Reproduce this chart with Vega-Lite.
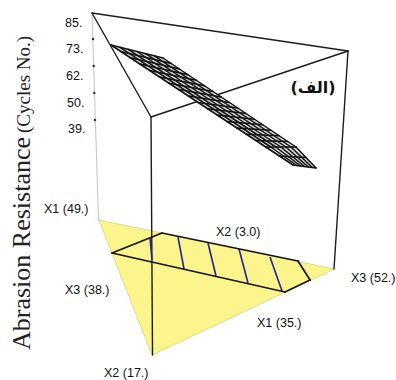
{"$schema":"https://vega.github.io/schema/vega-lite/v6.json","width":396,"height":380,"padding":0,"autosize":"none","background":"white","config":{"view":{"stroke":null}},
"datasets":{
"tri":[{"x":99,"y":220,"y2":220},{"x":152,"y":231,"y2":355},{"x":334,"y":269,"y2":269}],
"grey":[{"x":92,"y":13,"x2":98.5,"y2":220}],
"frame":[{"x":92,"y":13,"x2":348,"y2":51},{"x":348,"y":51,"x2":151,"y2":117},{"x":151,"y":117,"x2":92,"y2":13},{"x":151,"y":117,"x2":152.5,"y2":355},{"x":348,"y":51,"x2":334,"y2":269}],
"zone":[{"x":162,"y":233,"x2":298,"y2":261},{"x":298,"y":261,"x2":310,"y2":280},{"x":310,"y":280,"x2":285,"y2":292},{"x":285,"y":292,"x2":112,"y2":253},{"x":112,"y":253,"x2":162,"y2":233}],
"blue":[{"x":150,"y":238,"x2":152,"y2":260},{"x":178,"y":237,"x2":184,"y2":269},{"x":208,"y":243,"x2":216,"y2":276},{"x":239,"y":249,"x2":248,"y2":283},{"x":270,"y":257,"x2":282,"y2":291}],
"ticks":[{"x":93,"y":39},{"x":93.7,"y":66},{"x":94.3,"y":93},{"x":95,"y":120}],
"meshfill":[{"x":111,"y":45,"y2":45},{"x":163,"y":58,"y2":79},{"x":266,"y":127,"y2":147},{"x":293,"y":145,"y2":165},{"x":296,"y":147,"y2":165.4},{"x":316,"y":168,"y2":168}],
"mesh":[
{"x":111,"y":45,"x2":265.7,"y2":147},{"x":265.7,"y":147,"x2":293,"y2":165},
{"x":119.7,"y":47.2,"x2":270.8,"y2":147},{"x":270.8,"y":147,"x2":296.8,"y2":165.5},
{"x":128.3,"y":49.3,"x2":275.8,"y2":147},{"x":275.8,"y":147,"x2":300.7,"y2":166},
{"x":137,"y":51.5,"x2":280.9,"y2":147},{"x":280.9,"y":147,"x2":304.5,"y2":166.5},
{"x":145.7,"y":53.7,"x2":285.9,"y2":147},{"x":285.9,"y":147,"x2":308.3,"y2":167},
{"x":154.3,"y":55.8,"x2":291,"y2":147},{"x":291,"y":147,"x2":312.2,"y2":167.5},
{"x":163,"y":58,"x2":296,"y2":147},{"x":296,"y":147,"x2":316,"y2":168},
{"x":111,"y":45,"x2":163,"y2":58},{"x":120.7,"y":51.4,"x2":171.3,"y2":63.6},{"x":130.3,"y":57.8,"x2":179.6,"y2":69.1},{"x":140,"y":64.1,"x2":187.9,"y2":74.7},{"x":149.7,"y":70.5,"x2":196.3,"y2":80.2},{"x":159.4,"y":76.9,"x2":204.6,"y2":85.8},{"x":169,"y":83.3,"x2":212.9,"y2":91.4},{"x":178.7,"y":89.6,"x2":221.2,"y2":96.9},{"x":188.4,"y":96,"x2":229.5,"y2":102.5},{"x":198,"y":102.4,"x2":237.8,"y2":108},{"x":207.7,"y":108.8,"x2":246.1,"y2":113.6},{"x":217.4,"y":115.1,"x2":254.4,"y2":119.2},{"x":227,"y":121.5,"x2":262.7,"y2":124.7},{"x":236.7,"y":127.9,"x2":271,"y2":130.3},{"x":246.4,"y":134.3,"x2":279.3,"y2":135.8},{"x":256,"y":140.6,"x2":287.7,"y2":141.4},{"x":265.7,"y":147,"x2":296,"y2":147},{"x":279.3,"y":156,"x2":306,"y2":157.5},{"x":293,"y":165,"x2":316,"y2":168}],
"labels":[{"x":65,"y":23,"t":"85."},{"x":66,"y":49,"t":"73."},{"x":66,"y":76,"t":"62."},{"x":67,"y":103,"t":"50."},{"x":68,"y":129,"t":"39."},{"x":44,"y":209,"t":"X1 (49.)"},{"x":216,"y":232,"t":"X2 (3.0)"},{"x":65,"y":290,"t":"X3 (38.)"},{"x":351,"y":278,"t":"X3 (52.)"},{"x":257,"y":323,"t":"X1 (35.)"},{"x":104,"y":373,"t":"X2 (17.)"}],
"arabic":[{"x":313,"y":88,"t":"(الف)"}],
"titleMain":[{"x":30,"y":350,"t":"Abrasion Resistance"}],
"titleSub":[{"x":30,"y":133,"t":"(Cycles No.)"}]
},
"encoding":{"x":{"field":"x","type":"quantitative","axis":null,"scale":{"domain":[0,396],"nice":false,"zero":false}},"y":{"field":"y","type":"quantitative","axis":null,"scale":{"domain":[0,380],"nice":false,"zero":false,"reverse":true}}},
"layer":[
{"data":{"name":"tri"},"mark":{"type":"area","fill":"#fbf58c","stroke":"#d8d27a","strokeWidth":0.8},"encoding":{"y2":{"field":"y2"}}},
{"data":{"name":"grey"},"mark":{"type":"rule","stroke":"#c4c4c4","strokeWidth":1},"encoding":{"x2":{"field":"x2"},"y2":{"field":"y2"}}},
{"data":{"name":"frame"},"mark":{"type":"rule","stroke":"#1c1c1c","strokeWidth":1.4,"strokeCap":"round"},"encoding":{"x2":{"field":"x2"},"y2":{"field":"y2"}}},
{"data":{"name":"blue"},"mark":{"type":"rule","stroke":"#22229c","strokeWidth":1.6},"encoding":{"x2":{"field":"x2"},"y2":{"field":"y2"}}},
{"data":{"name":"zone"},"mark":{"type":"rule","stroke":"#151515","strokeWidth":1.7,"strokeCap":"round"},"encoding":{"x2":{"field":"x2"},"y2":{"field":"y2"}}},
{"data":{"name":"ticks"},"mark":{"type":"point","filled":true,"fill":"#333333","size":6,"opacity":1}},
{"data":{"name":"meshfill"},"mark":{"type":"area","fill":"#d8d8d8"},"encoding":{"y2":{"field":"y2"}}},
{"data":{"name":"mesh"},"mark":{"type":"rule","stroke":"#111111","strokeWidth":1.5,"strokeCap":"round"},"encoding":{"x2":{"field":"x2"},"y2":{"field":"y2"}}},
{"data":{"name":"labels"},"mark":{"type":"text","font":"Liberation Sans","fontSize":12.5,"align":"left","baseline":"middle","fill":"#111111"},"encoding":{"text":{"field":"t"}}},
{"data":{"name":"arabic"},"mark":{"type":"text","font":"DejaVu Sans","fontWeight":"bold","fontSize":16,"align":"center","baseline":"middle","fill":"#111111"},"encoding":{"text":{"field":"t"}}},
{"data":{"name":"titleMain"},"mark":{"type":"text","font":"Liberation Serif","fontSize":26,"angle":270,"align":"left","baseline":"alphabetic","fill":"#222222"},"encoding":{"text":{"field":"t"}}},
{"data":{"name":"titleSub"},"mark":{"type":"text","font":"Liberation Serif","fontSize":19,"angle":270,"align":"left","baseline":"alphabetic","fill":"#222222"},"encoding":{"text":{"field":"t"}}}
]}
